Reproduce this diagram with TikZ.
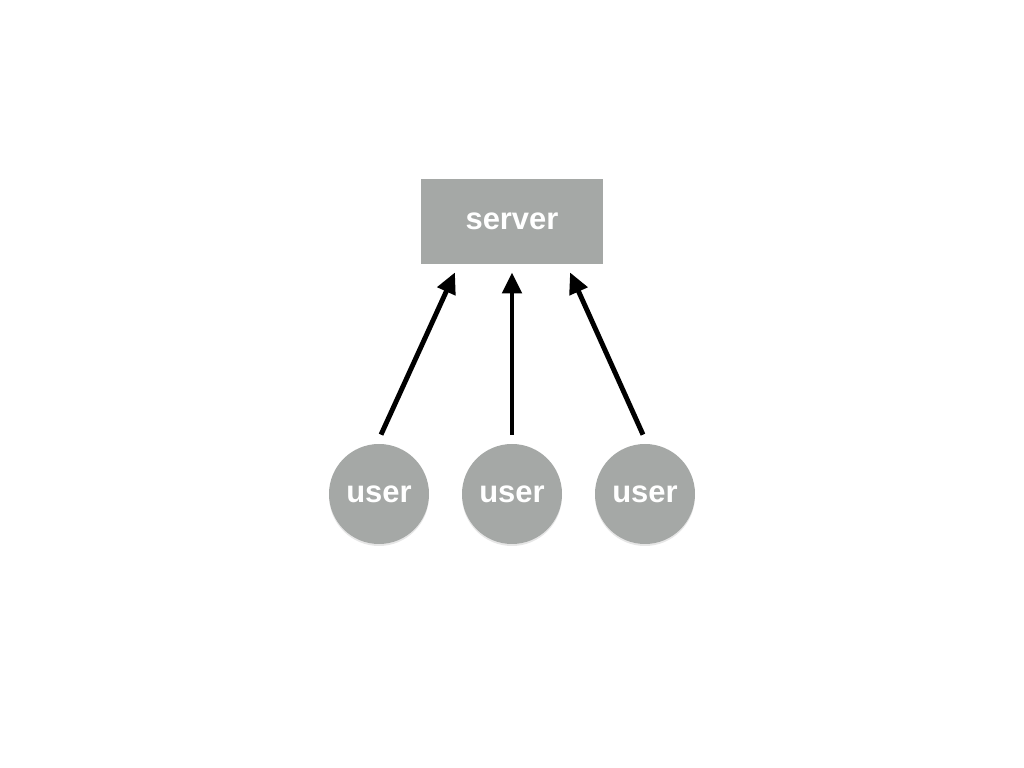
\documentclass[tikz,border=0pt]{standalone}
\usepackage{fontspec}
\setmainfont{Liberation Sans}
\usetikzlibrary{arrows.meta,shadows}
\definecolor{boxgrey}{RGB}{165,168,166}
\tikzstyle{srvbox} = [rectangle, fill=boxgrey, minimum width=3.64cm, minimum height=1.70cm, text=white, font=\fontsize{17.6}{20}\selectfont\bfseries]
\tikzstyle{usercirc} = [circle, fill=boxgrey, minimum size=2.0cm, inner sep=0pt, text=white, font=\fontsize{17.6}{20}\selectfont\bfseries, drop shadow={opacity=0.2, shadow xshift=0cm, shadow yshift=-0.04cm}]
\tikzstyle{arr} = [line width=2.8pt, -{Triangle[length=0.42cm, width=0.38cm]}]

\begin{document}
\begin{tikzpicture}
      \useasboundingbox (0,0) rectangle (20.48,15.36);
      \node[srvbox] (srv) at (10.24,10.93) {server};
      \node[usercirc] (u1) at (7.58,5.48) {user};
      \node[usercirc] (u2) at (10.24,5.48) {user};
      \node[usercirc] (u3) at (12.90,5.48) {user};
      %\draw (srv) -- (u2);
      \draw[arr] ([xshift=0.04cm, yshift=0.18cm]u1.north) -- ([xshift=-1.14cm, yshift=-0.16cm]srv.south);
      \draw[arr] ([yshift=0.18cm]u2.north) -- ([yshift=-0.16cm]srv.south);
      \draw[arr] ([xshift=-0.04cm, yshift=0.18cm]u3.north) -- ([xshift=1.16cm, yshift=-0.16cm]srv.south);
\end{tikzpicture}
\end{document}
